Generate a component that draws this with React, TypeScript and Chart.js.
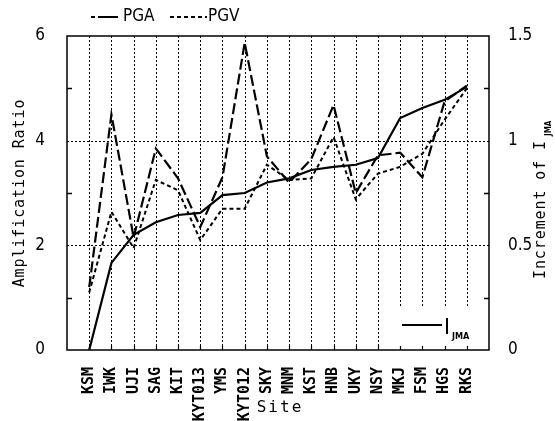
import React, { useEffect, useRef } from 'react';
import { Chart, registerables } from 'chart.js';

Chart.register(...registerables);

const SITES = ['KSM', 'IWK', 'UJI', 'SAG', 'KIT', 'KYT013', 'YMS', 'KYT012', 'SKY', 'MNM', 'KST', 'HNB', 'UKY', 'NSY', 'MKJ', 'FSM', 'HGS', 'RKS'];
const PGA = [1.2, 4.5, 2.15, 3.85, 3.28, 2.35, 3.3, 5.87, 3.7, 3.2, 3.65, 4.68, 3.0, 3.72, 3.77, 3.3, 4.75, 5.05];
const PGV = [1.1, 2.64, 1.95, 3.25, 3.05, 2.1, 2.7, 2.7, 3.54, 3.25, 3.28, 4.07, 2.88, 3.37, 3.5, 3.75, 4.4, 5.0];
const IJMA = [0, 0.416, 0.55, 0.61, 0.645, 0.655, 0.74, 0.75, 0.8, 0.82, 0.86, 0.875, 0.885, 0.917, 1.108, 1.156, 1.195, 1.257];
const LEFT_TICKS = [0, 2, 4, 6];
const RIGHT_TICKS = [0, 0.5, 1, 1.5];
const GRID_Y = [2, 4];
const MINOR_LEFT = [1, 3, 5];
const MINOR_RIGHT = [0.25, 0.75, 1.25];

const MONO = '"DejaVu Sans Mono", monospace';
const NARROW = '"Liberation Sans Narrow", "DejaVu Sans Condensed", sans-serif';

const decor = {
  id: 'decor',
  beforeDatasetsDraw(chart: any) {
    const { ctx, chartArea: a, scales } = chart;
    const x = scales.x, y = scales.y, y2 = scales.y2;
    ctx.save();
    ctx.strokeStyle = '#000';
    ctx.lineWidth = 1;
    ctx.setLineDash([2, 2]);
    SITES.forEach((_, i) => {
      const px = Math.round(x.getPixelForValue(i)) + 0.5;
      ctx.beginPath(); ctx.moveTo(px, a.top); ctx.lineTo(px, a.bottom); ctx.stroke();
    });
    GRID_Y.forEach((v) => {
      const py = Math.round(y.getPixelForValue(v)) + 0.5;
      ctx.beginPath(); ctx.moveTo(a.left, py); ctx.lineTo(a.right, py); ctx.stroke();
    });
    ctx.setLineDash([]);
    ctx.lineWidth = 1.5;
    MINOR_LEFT.forEach((v) => {
      const py = Math.round(y.getPixelForValue(v)) + 0.5;
      ctx.beginPath(); ctx.moveTo(a.left, py); ctx.lineTo(a.left + 5, py); ctx.stroke();
    });
    MINOR_RIGHT.forEach((v) => {
      const py = Math.round(y2.getPixelForValue(v)) + 0.5;
      ctx.beginPath(); ctx.moveTo(a.right, py); ctx.lineTo(a.right - 5, py); ctx.stroke();
    });
    ctx.restore();
  },
  afterDatasetsDraw(chart: any) {
    const { ctx, chartArea: a, scales } = chart;
    const x = scales.x;
    ctx.save();
    // inner legend box (I_JMA)
    const bx0 = a.right - 108, by0 = a.bottom - 43;
    ctx.fillStyle = '#fff';
    ctx.fillRect(bx0, by0, 106, 39);
    // bottom inward ticks
    ctx.strokeStyle = '#000';
    ctx.lineWidth = 1.2;
    SITES.forEach((_, i) => {
      const px = Math.round(x.getPixelForValue(i)) + 0.5;
      ctx.beginPath(); ctx.moveTo(px, a.bottom); ctx.lineTo(px, a.bottom - 4); ctx.stroke();
    });
    // legend sample for I_JMA
    ctx.lineWidth = 2.2;
    ctx.beginPath(); ctx.moveTo(a.right - 87, a.bottom - 25); ctx.lineTo(a.right - 47, a.bottom - 25); ctx.stroke();
    ctx.fillStyle = '#000';
    ctx.fillRect(a.right - 43, a.bottom - 32, 2, 16);
    ctx.font = 'bold 9px ' + NARROW;
    ctx.textBaseline = 'middle';
    ctx.textAlign = 'left';
    ctx.fillText('JMA', a.right - 37, a.bottom - 13);

    // plot border
    ctx.lineWidth = 1.5;
    ctx.strokeRect(a.left, a.top, a.right - a.left, a.bottom - a.top);

    // top legend
    ctx.lineWidth = 2;
    ctx.setLineDash([4, 3, 18, 0]);
    ctx.beginPath(); ctx.moveTo(91, 17); ctx.lineTo(118, 17); ctx.stroke();
    ctx.setLineDash([4, 3]);
    ctx.beginPath(); ctx.moveTo(170, 17); ctx.lineTo(207, 17); ctx.stroke();
    ctx.setLineDash([]);
    ctx.font = '17px ' + NARROW;
    ctx.fillText('PGA', 123, 17);
    ctx.fillText('PGV', 208, 17);

    // axis titles
    const c: any = ctx;
    ctx.font = '15px ' + MONO;
    c.letterSpacing = '0.9px';
    ctx.save();
    ctx.translate(20, (a.top + a.bottom) / 2);
    ctx.rotate(-Math.PI / 2);
    ctx.textAlign = 'center';
    ctx.fillText('Amplification Ratio', 0, 0);
    ctx.restore();

    ctx.save();
    ctx.translate(541, 279);
    ctx.rotate(-Math.PI / 2);
    ctx.textAlign = 'left';
    ctx.fillText('Increment of I', 0, 0);
    const w = ctx.measureText('Increment of I').width;
    c.letterSpacing = '0px';
    ctx.font = 'bold 8px ' + NARROW;
    ctx.fillText('JMA', w + 4, 8);
    ctx.restore();

    ctx.font = '16px ' + MONO;
    c.letterSpacing = '2px';
    ctx.textAlign = 'center';
    ctx.fillText('Site', (a.left + a.right) / 2 + 2, 408);
    c.letterSpacing = '0px';
    ctx.restore();
  },
};

export default function App() {
  const ref = useRef<HTMLCanvasElement | null>(null);
  useEffect(() => {
    if (!ref.current) return;
    const chart = new Chart(ref.current, {
      type: 'line',
      data: {
        datasets: [
          {
            label: 'PGA',
            data: SITES.map((_, i) => ({ x: i, y: PGA[i] })),
            yAxisID: 'y',
            borderColor: '#000',
            borderWidth: 2.2,
            borderDash: [11, 4],
            pointRadius: 0,
            tension: 0,
            fill: false,
          },
          {
            label: 'PGV',
            data: SITES.map((_, i) => ({ x: i, y: PGV[i] })),
            yAxisID: 'y',
            borderColor: '#000',
            borderWidth: 2,
            borderDash: [4, 3],
            pointRadius: 0,
            tension: 0,
            fill: false,
          },
          {
            label: 'IJMA',
            data: SITES.map((_, i) => ({ x: i, y: IJMA[i] })),
            yAxisID: 'y2',
            borderColor: '#000',
            borderWidth: 2.2,
            pointRadius: 0,
            tension: 0,
            fill: false,
          },
        ],
      },
      options: {
        responsive: false,
        animation: false,
        devicePixelRatio: 1,
        layout: { padding: { top: 36, left: 0, right: 0, bottom: 0 } },
        plugins: { legend: { display: false }, tooltip: { enabled: false } },
        scales: {
          x: {
            type: 'linear',
            min: -1,
            max: SITES.length,
            afterBuildTicks: (s: any) => {
              s.ticks = SITES.map((_, i) => ({ value: i }));
            },
            afterFit: (s: any) => { s.height = 71; },
            grid: { display: false },
            border: { display: false },
            ticks: {
              autoSkip: false,
              minRotation: 90,
              maxRotation: 90,
              padding: 9,
              color: '#000',
              font: { family: MONO, size: 15, weight: 'bold' },
              callback: (v: any) => SITES[v] ?? '',
            },
          },
          y: {
            position: 'left',
            min: 0,
            max: 6,
            afterBuildTicks: (s: any) => { s.ticks = LEFT_TICKS.map((v) => ({ value: v })); },
            afterFit: (s: any) => { s.width = 67; },
            grid: { display: false },
            border: { display: false },
            ticks: { padding: 14, color: '#000', font: { family: NARROW, size: 17 } },
          },
          y2: {
            position: 'right',
            min: 0,
            max: 1.5,
            afterBuildTicks: (s: any) => { s.ticks = RIGHT_TICKS.map((v) => ({ value: v })); },
            afterFit: (s: any) => { s.width = 66; },
            grid: { display: false },
            border: { display: false },
            ticks: {
              padding: 11,
              color: '#000',
              font: { family: NARROW, size: 17 },
              callback: (v: any) => String(v),
            },
          },
        },
      },
      plugins: [decor],
    } as any);
    return () => chart.destroy();
  }, []);
  return (
    <div style={{ position: 'fixed', left: 0, top: 0, width: 555, height: 421, background: '#fff' }}>
      <canvas ref={ref} width={555} height={421} style={{ display: 'block' }} />
    </div>
  );
}
